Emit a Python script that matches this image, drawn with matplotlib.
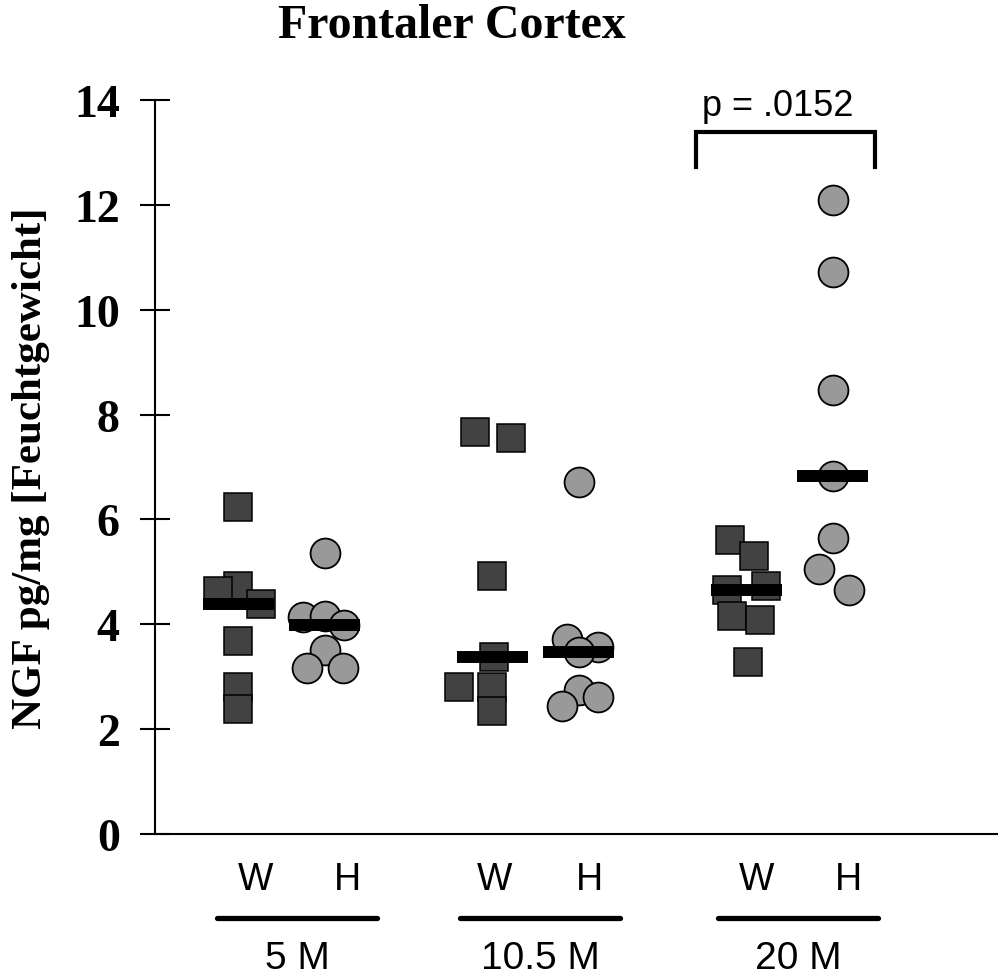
import numpy as np
import matplotlib
matplotlib.use("Agg")
import matplotlib.pyplot as plt

# ---- data ----
groups = ["5 M", "10.5 M", "20 M"]
sub_labels = ["W", "H"]

w_values = [
    [6.24, 4.73, 4.63, 4.39, 3.68, 2.80, 2.38],
    [7.67, 7.55, 4.92, 3.38, 2.80, 2.80, 2.35],
    [5.61, 5.31, 4.66, 4.73, 4.16, 4.08, 3.28],
]
w_jitter = [
    [0, 0, -0.079, 0.091, 0, 0, 0],
    [-0.067, 0.075, 0, 0.008, -0.13, 0, 0],
    [-0.063, 0.031, -0.075, 0.079, -0.055, 0.055, 0.008],
]
h_values = [
    [5.36, 4.14, 4.16, 3.99, 3.51, 3.17, 3.17],
    [6.71, 3.72, 3.57, 3.47, 2.75, 2.44, 2.61],
    [12.09, 10.72, 8.47, 6.83, 5.65, 5.05, 4.66],
]
h_jitter = [
    [0, -0.087, 0, 0.075, 0, -0.071, 0.071],
    [0, -0.047, 0.075, 0, 0, -0.067, 0.075],
    [0, 0, 0, 0, 0, -0.055, 0.063],
]
p_text = "p = .0152"
yticks = [0, 2, 4, 6, 8, 10, 12, 14]

# ---- layout constants ----
W, H = 998, 979
sub_off = 0.17
bar_half = 0.14
w_lab_off = [-0.104, -0.161, -0.128]
h_lab_off = [0.258, 0.214, 0.234]
grp_off = [0.063, 0.018, 0.033]

fig = plt.figure(figsize=(W / 100, H / 100), dpi=100)
ax = fig.add_axes([155 / W, (H - 835) / H, (W - 155) / W, (835 - 101) / H])

serif = "Liberation Serif"
sans = "Liberation Sans"

for g in range(3):
    xw = g - sub_off + np.array(w_jitter[g])
    xh = g + sub_off + np.array(h_jitter[g])
    ax.plot(xw, w_values[g], ls="none", marker="s", ms=20.8, mfc="#424242",
            mec="black", mew=1.1, zorder=3)
    ax.plot(xh, h_values[g], ls="none", marker="o", ms=21.5, mfc="#999999",
            mec="black", mew=1.3, zorder=3)
    mw = np.median(w_values[g])
    mh = np.median(h_values[g])
    ax.hlines(mw, g - sub_off - bar_half, g - sub_off + bar_half, color="black",
              lw=8.6, zorder=4, capstyle="butt")
    ax.hlines(mh, g + sub_off - bar_half, g + sub_off + bar_half, color="black",
              lw=8.6, zorder=4, capstyle="butt")

ax.set_xlim(-0.498, 2.821)
ax.set_ylim(0, 14)
ax.set_yticks(yticks)
ax.set_yticklabels([str(t) for t in yticks], fontfamily=serif, fontweight="bold",
                   fontsize=33)
ax.set_xticks([])
ax.tick_params(axis="y", direction="inout", length=21.6, width=1.5, pad=14.5)
for s in ["top", "right"]:
    ax.spines[s].set_visible(False)
ax.spines["left"].set_linewidth(1.5)
ax.spines["bottom"].set_linewidth(1.5)

ax.set_ylabel("NGF pg/mg [Feuchtgewicht]", fontfamily=serif, fontweight="bold",
              fontsize=31)
ax.yaxis.set_label_coords((50 - 155) / (W - 155), 0.5)
fig.text(452 / W, 1 - 38 / H, "Frontaler Cortex", fontfamily=serif,
         fontweight="bold", fontsize=34.5, ha="center", va="baseline")

# x labels below axis
tr = ax.get_xaxis_transform()
ax_h = 835 - 101
for g in range(3):
    ax.text(g + w_lab_off[g], -(890 - 835) / ax_h, sub_labels[0], transform=tr,
            ha="center", va="baseline", fontfamily=sans, fontsize=27, clip_on=False)
    ax.text(g + h_lab_off[g], -(890 - 835) / ax_h, sub_labels[1], transform=tr,
            ha="center", va="baseline", fontfamily=sans, fontsize=27, clip_on=False)
    cx = g + grp_off[g]
    ax.plot([cx - 0.315, cx + 0.315], [-(919 - 835) / ax_h] * 2, transform=tr,
            color="black", lw=3.8, solid_capstyle="round", clip_on=False)
    ax.text(cx, -(969 - 835) / ax_h, groups[g], transform=tr, ha="center",
            va="baseline", fontfamily=sans, fontsize=28, clip_on=False)

# significance bracket over 20 M
bx0 = 2 - 0.368
bx1 = 2 + 0.337
ax.plot([bx0, bx0, bx1, bx1], [12.72, 13.39, 13.39, 12.72], color="black", lw=3,
        solid_joinstyle="miter", clip_on=False)
ax.text(2 - 0.047, 13.72, p_text, ha="center", va="baseline",
        fontfamily=sans, fontsize=26, clip_on=False)

fig.savefig("out.png", dpi=100)
